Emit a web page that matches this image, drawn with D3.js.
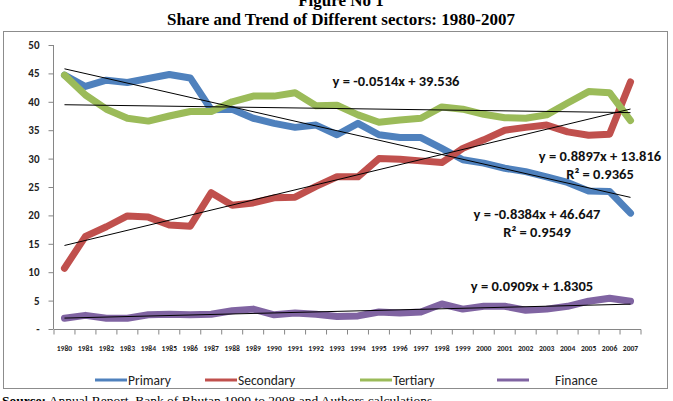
<!DOCTYPE html>
<html><head><meta charset="utf-8">
<script src="https://cdn.jsdelivr.net/npm/d3@7"></script>
<style>body{margin:0;background:#fff}svg{display:block}</style>
</head><body>
<script>
const years = ["1980","1981","1982","1983","1984","1985","1986","1987","1988","1989","1990","1991","1992","1993","1994","1995","1996","1997","1998","1999","2000","2001","2002","2003","2004","2005","2006","2007"];
const primary   = [44.7,42.7,43.8,43.4,44.1,44.8,44.2,38.6,38.7,37.1,36.2,35.5,35.9,34.2,36.2,34.2,33.7,33.7,31.8,29.8,29.2,28.3,27.7,26.8,25.8,24.3,24.2,20.4];
const secondary = [10.7,16.3,18.0,19.9,19.7,18.3,18.1,24.0,21.8,22.2,23.1,23.2,25.1,26.8,26.8,30.0,29.9,29.6,29.3,31.8,33.3,35.0,35.5,35.9,34.7,34.1,34.3,43.5];
const tertiary  = [44.7,41.2,38.7,37.1,36.6,37.5,38.3,38.3,40.0,41.0,41.0,41.6,39.3,39.4,37.7,36.4,36.8,37.1,39.1,38.7,37.8,37.2,37.1,37.7,39.8,41.8,41.6,36.7];
const finance   = [1.9,2.4,1.9,1.9,2.5,2.6,2.5,2.6,3.2,3.5,2.5,2.8,2.6,2.2,2.3,3.0,2.8,3.0,4.4,3.5,4.0,4.0,3.3,3.5,4.0,4.9,5.4,4.9];
const seriesNames = ["Primary","Secondary","Tertiary","Finance"];
const seriesColors = ["#4F81BD","#C0504D","#9BBB59","#8064A2"];
const trendSlopes = [-0.8384, 0.8897, -0.0514, 0.0909];
const trendIntercepts = [46.647, 13.816, 39.536, 1.8305];
const trendLabels = [["y = -0.8384x + 46.647","R² = 0.9549"],["y = 0.8897x + 13.816","R² = 0.9365"],["y = -0.0514x + 39.536"],["y = 0.0909x + 1.8305"]];
const yTicks = [0,5,10,15,20,25,30,35,40,45,50];

const W=673,H=401;
const svg=d3.select("body").append("svg").attr("width",W).attr("height",H);
const sans="Carlito, Calibri, Lato, 'Open Sans', sans-serif";
const serif="'Liberation Serif','Times New Roman',serif";

svg.append("text").attr("x",341).attr("y",6).attr("text-anchor","middle")
  .attr("font-family",serif).attr("font-weight","bold").attr("font-size",17).text("Figure No 1");
svg.append("text").attr("x",341).attr("y",25).attr("text-anchor","middle")
  .attr("font-family",serif).attr("font-weight","bold").attr("font-size",17).text("Share and Trend of Different sectors: 1980-2007");

svg.append("rect").attr("x",3.5).attr("y",31.5).attr("width",664).attr("height",357)
  .attr("fill","#fff").attr("stroke","#8c8c8c").attr("stroke-width",1);

const x=d3.scaleBand().domain(years).range([54,641]).padding(0);
const y=d3.scaleLinear().domain([0,50]).range([329,45]);
const cx=d=>x(d)+x.bandwidth()/2;

// y axis
const ya=svg.append("g").attr("transform","translate(53.5,0)")
  .call(d3.axisLeft(y).tickValues(yTicks).tickSize(5).tickPadding(9).tickFormat(d=>d===0?"-":d));
ya.select(".domain").attr("stroke","#868686").attr("d","M0,45V329");
ya.selectAll(".tick line").attr("stroke","#868686");
ya.selectAll("text").attr("font-family",sans).attr("font-weight","bold").attr("font-size",11).attr("fill","#222");

// x axis
const xa=svg.append("g").attr("transform","translate(0,329.5)");
xa.append("line").attr("x1",54).attr("x2",641).attr("stroke","#868686");
const bounds=years.map(d=>x(d)).concat([x(years[years.length-1])+x.bandwidth()]);
xa.selectAll("line.tk").data(bounds).join("line").attr("class","tk")
  .attr("x1",d=>d).attr("x2",d=>d).attr("y1",0).attr("y2",5).attr("stroke","#868686");
xa.selectAll("text").data(years).join("text").attr("x",d=>cx(d)).attr("y",21)
  .attr("text-anchor","middle").attr("font-family",sans).attr("font-weight","bold").attr("font-size",7.6).attr("fill","#222").text(d=>d);

const data=[primary,secondary,tertiary,finance];
const line=d3.line().x((d,i)=>cx(years[i])).y(d=>y(d));
data.forEach((s,k)=>{
  svg.append("path").datum(s).attr("d",line).attr("fill","none")
    .attr("stroke",seriesColors[k]).attr("stroke-width",7).attr("stroke-linejoin","round").attr("stroke-linecap","round");
});
// trend lines
data.forEach((s,k)=>{
  const pts=[1,years.length].map(i=>[cx(years[i-1]), y(trendSlopes[k]*i+trendIntercepts[k])]);
  svg.append("line").attr("x1",pts[0][0]).attr("y1",pts[0][1]).attr("x2",pts[1][0]).attr("y2",pts[1][1])
    .attr("stroke","#000").attr("stroke-width",1);
});
// trend labels
const labelPos=[[537,219],[600,161],[396,86],[532,291]];
trendLabels.forEach((lines,k)=>{
  lines.forEach((t,j)=>{
    svg.append("text").attr("x",labelPos[k][0]).attr("y",labelPos[k][1]+j*18).attr("text-anchor","middle")
      .attr("font-family",sans).attr("font-weight","bold").attr("font-size",14.5).attr("fill","#111").text(t);
  });
});

// legend
const legX=[95,205,360,497];
seriesNames.forEach((n,k)=>{
  svg.append("line").attr("x1",legX[k]).attr("x2",legX[k]+32).attr("y1",380).attr("y2",380)
    .attr("stroke",seriesColors[k]).attr("stroke-width",3);
  svg.append("text").attr("x",k===3?legX[k]+58:legX[k]+33).attr("y",384.5).attr("font-family",sans)
    .attr("font-size",13.5).attr("fill","#222").text(n);
});

svg.append("text").attr("x",2).attr("y",405).attr("font-family",serif).attr("font-size",13.5).attr("fill","#000")
  .html('<tspan font-weight="bold">Source:</tspan> Annual Report, Bank of Bhutan 1990 to 2008 and Authors calculations');
</script>
</body></html>
